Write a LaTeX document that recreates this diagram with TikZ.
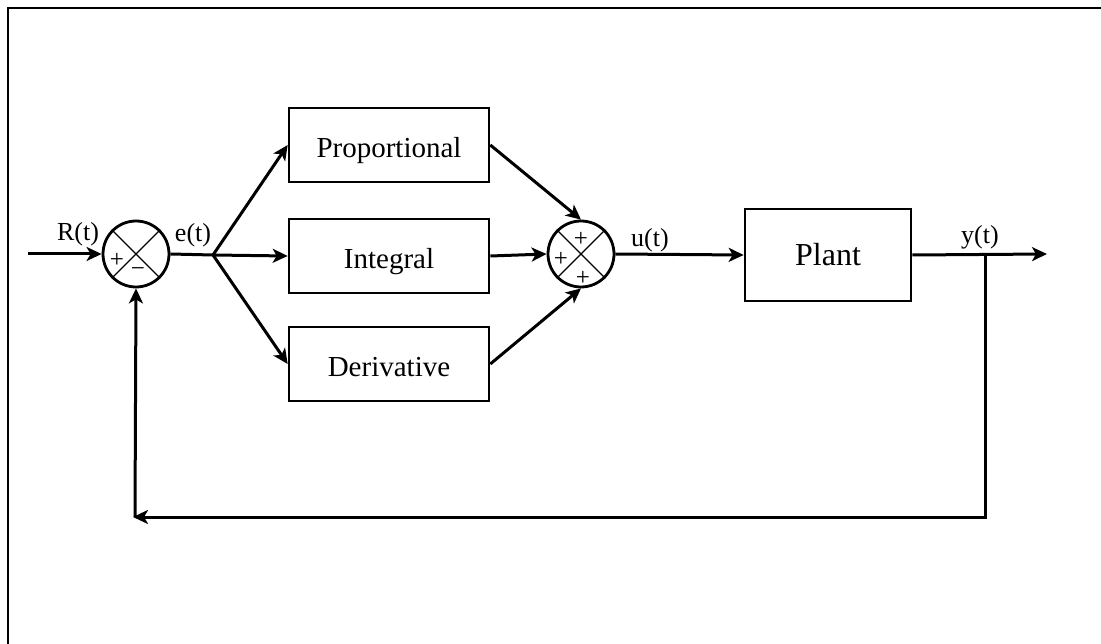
\documentclass[tikz,border=0pt]{standalone}
\usepackage{fontspec}
\setmainfont{Liberation Serif}
\usetikzlibrary{arrows.meta}
\begin{document}
\begin{tikzpicture}[x=1pt,y=-1pt,
  conn/.style={line width=3pt},
  arr/.style={conn,-{Stealth[length=15pt,width=14pt,inset=4pt]}},
  blockbox/.style={draw,line width=2.6pt,minimum width=200pt,minimum height=74pt,inner sep=0pt,text height=25pt,text depth=0pt,font=\fontsize{29}{33}\selectfont},
  sumnode/.style={draw,circle,line width=2.8pt,minimum size=66pt,inner sep=0pt},
  sig/.style={font=\fontsize{26}{30}\selectfont,inner sep=0pt},
  sgn/.style={font=\fontsize{25}{27}\selectfont,inner sep=0pt},
  cross/.style={line width=1.4pt}
]
\useasboundingbox (0,0) rectangle (1101,644);
\draw[line width=2pt] (8,650) -- (8,8.5) -- (1110,8.5);

% summing junctions
\node[sumnode] (s1) at (136,254) {};
\node[sumnode] (s2) at (581,254) {};
\draw[cross] (s1.north west) -- (s1.south east);
\draw[cross] (s1.north east) -- (s1.south west);
\draw[cross] (s2.north west) -- (s2.south east);
\draw[cross] (s2.north east) -- (s2.south west);
\node[sgn] (s1p) at (117,260) {+};
\node[sgn] (s1m) at (138,272) {−};
\node[sgn] (s2t) at (581,239) {+};
\node[sgn] (s2l) at (561,259) {+};
\node[sgn] (s2b) at (583,278) {+};

% blocks
\node[blockbox] (P) at (389,145) {Proportional};
\node[blockbox] (I) at (389,256) {Integral};
\node[blockbox] (D) at (389,364) {Derivative};
\node[draw,line width=2.6pt,minimum width=166pt,minimum height=92pt,inner sep=0pt,font=\fontsize{32}{36}\selectfont] (Plant) at (828,255) {Plant};

% coordinates
\coordinate (in) at (28,254);
\coordinate (br) at (213,255);
\coordinate (out) at (1047,254);
\coordinate (tap) at (985,254);
\coordinate (c1) at (985,517);
\coordinate (c2) at (133,517);
\coordinate (c3) at (135,517);

% connectors
\draw[arr] (in) -- (s1.west);
\draw[conn] (s1.east) -- (br);
\draw[arr] (br) -- (P.west);
\draw[arr] (br) -- (I.west);
\draw[arr] (br) -- (D.west);
\draw[arr] (P.east) -- (s2.north);
\draw[arr] (I.east) -- (s2.west);
\draw[arr] (D.east) -- (s2.south);
\draw[arr] (s2.east) -- (Plant.west);
\draw[arr] (Plant.east) -- (out);
\draw[arr] (tap) -- (c1) -- (c2);
\draw[arr] (c3) -- (s1.south);

% labels
\node[sig] (lR) at (78,234) {R(t)};
\node[sig] (le) at (193,235) {e(t)};
\node[sig] (lu) at (650,240) {u(t)};
\node[sig] (ly) at (980,237) {y(t)};
\end{tikzpicture}
\end{document}
